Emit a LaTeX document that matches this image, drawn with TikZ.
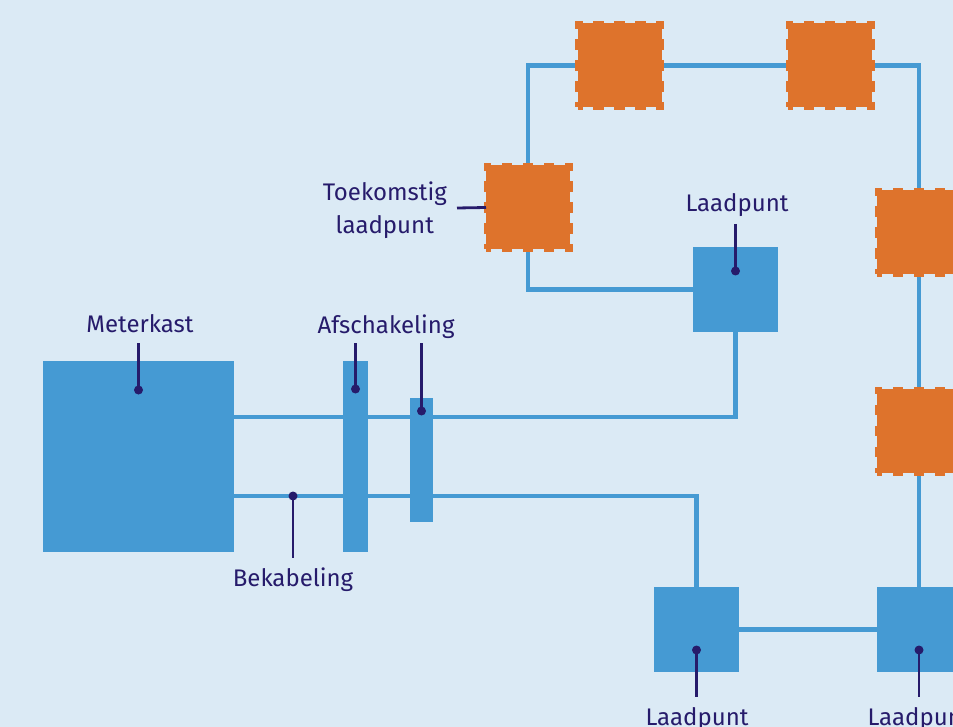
\documentclass[tikz,border=0pt]{standalone}
\usepackage{fontspec}
\setmainfont{Fira Sans}
\pgfdeclarelayer{bg}
\pgfdeclarelayer{wires}
\pgfsetlayers{bg,wires,main}
\definecolor{bgc}{HTML}{DBEAF5}
\definecolor{cable}{HTML}{459AD3}
\definecolor{future}{HTML}{DE732C}
\definecolor{ink}{HTML}{261B6B}
\begin{document}
\begin{tikzpicture}[x=1pt,y=-1pt,
  bluebox/.style={rectangle, fill=cable, inner sep=0pt, outer sep=0pt, minimum size=85pt},
  futurebox/.style={rectangle, fill=future, draw=future, line width=5pt,
    dash pattern=on 10.5pt off 10.5pt, dash phase=5.25pt,
    inner sep=0pt, outer sep=0pt, minimum size=84pt},
  wire/.style={draw=cable, line width=4.5pt},
  leader/.style={draw=ink, line width=2.8pt},
  pin/.style={circle, fill=ink, inner sep=0pt, minimum size=9pt},
  lbl/.style={text=ink, font=\fontsize{24}{33}\selectfont, inner sep=0pt}]
\useasboundingbox (0,0) rectangle (953,727);
\clip (0,0) rectangle (953,727);
\begin{pgfonlayer}{bg}
  \fill[bgc] (0,0) rectangle (953,727);
\end{pgfonlayer}

% boxes
\node[bluebox, minimum width=191pt, minimum height=191pt] (meter) at (138.5,456.5) {};
\node[bluebox, minimum width=25pt, minimum height=191pt] (bar1) at (355.5,456.5) {};
\node[bluebox, minimum width=23pt, minimum height=124pt] (bar2) at (421.5,460) {};
\node[bluebox] (lp1) at (735.5,289.5) {};
\node[bluebox] (lp2) at (696.5,629.5) {};
\node[bluebox] (lp3) at (919.5,629.5) {};
\node[futurebox] (o1) at (528,207.5) {};
\node[futurebox] (o2) at (619.5,65.5) {};
\node[futurebox] (o3) at (830,65.5) {};
\node[futurebox] (o4) at (919,232.5) {};
\node[futurebox] (o5) at (919,431) {};

% wires
\coordinate (ytop) at (0,417);
\coordinate (ybot) at (0,496);
\begin{pgfonlayer}{wires}
  \draw[wire] (meter.east |- ytop) -| (lp1.south);
  \draw[wire] (meter.east |- ybot) -| (lp2.north);
  \draw[wire] (lp2.east) -- (lp3.west);
  \draw[wire] (o5.south |- lp3.north) -- (o5.south);
  \draw[wire] (o5.north) -- (o4.south);
  \draw[wire] (o4.north) |- (o3.east);
  \draw[wire] (o3.west) -- (o2.east);
  \draw[wire] (o2.west) -| (o1.north);
  \draw[wire] (o1.south) |- (lp1.west);
\end{pgfonlayer}

% labels
\node[lbl, anchor=base] (tmeter) at (140,333) {Meterkast};
\node[lbl, anchor=base] (tafsch) at (386,334) {Afschakeling};
\node[lbl, anchor=base] (tbek) at (293,586) {Bekabeling};
\node[lbl, anchor=base] (tlp1) at (737,212) {Laadpunt};
\node[lbl, anchor=base] (tlp2) at (697,725) {Laadpunt};
\node[lbl, anchor=base] (tlp3) at (919,725) {Laadpunt};
\node[lbl, anchor=east, align=center] (ttoek) at (447,210) {Toekomstig\\laadpunt};

% pins and leaders
\node[pin] (pmeter) at (138.5,390) {};
\coordinate (emeter) at (138.5,343);
\draw[leader] (emeter) -- (pmeter.center);
\node[pin] (pbek) at (293,496) {};
\coordinate (ebek) at (293,558);
\draw[leader] (pbek.center) -- (ebek);
\node[pin] (pbar1) at (355.5,389) {};
\coordinate (ebar1) at (355.5,343);
\draw[leader] (ebar1) -- (pbar1.center);
\node[pin] (pbar2) at (421.5,411) {};
\coordinate (ebar2) at (421.5,343);
\draw[leader] (ebar2) -- (pbar2.center);
\node[pin] (plp1) at (735.5,271) {};
\coordinate (elp1) at (735.5,224);
\draw[leader] (elp1) -- (plp1.center);
\node[pin] (plp2) at (696.5,650) {};
\coordinate (elp2) at (696.5,697);
\draw[leader] (plp2.center) -- (elp2);
\node[pin] (plp3) at (919,650) {};
\coordinate (elp3) at (919,697);
\draw[leader] (plp3.center) -- (elp3);
\coordinate (etoek) at (457,208);
\draw[leader] (etoek) -- (o1.west);
\end{tikzpicture}
\end{document}
